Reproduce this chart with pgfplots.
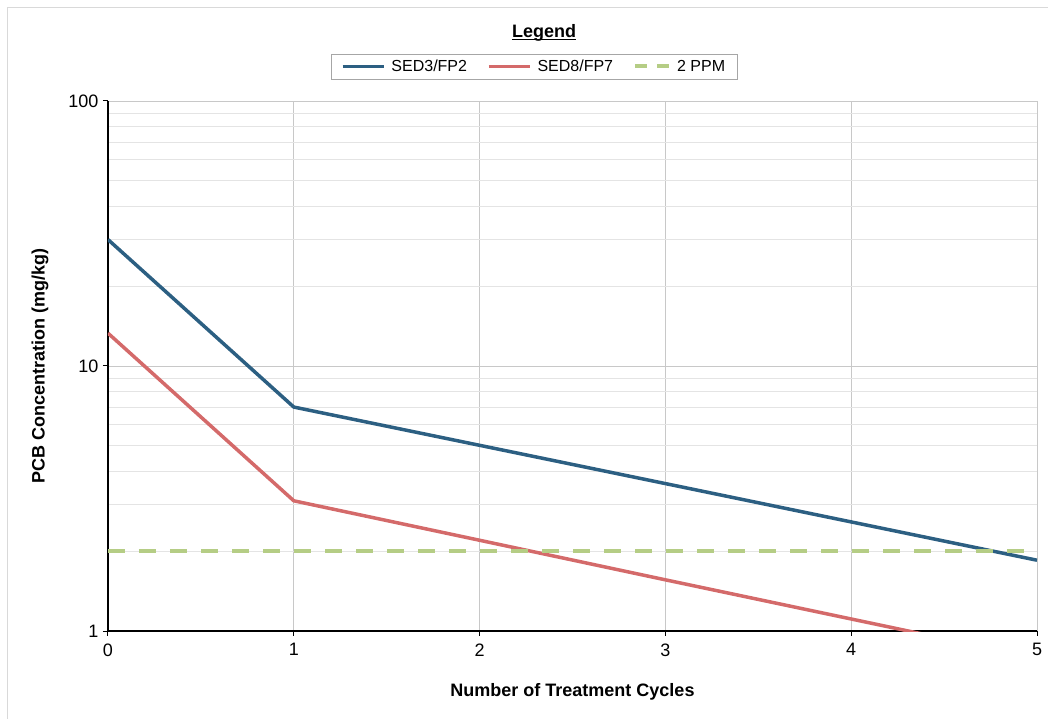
\documentclass[border=0pt]{standalone}
\usepackage{pgfplots}
\pgfplotsset{compat=1.18}
\usepackage{fontspec}
\setmainfont{Liberation Sans}
\definecolor{cblue}{RGB}{44,95,130}
\definecolor{cred}{RGB}{212,106,106}
\definecolor{cgreen}{RGB}{181,205,133}
\definecolor{gridmaj}{RGB}{200,200,200}
\definecolor{gridmin}{RGB}{228,228,228}
\newcommand\ft{\fontsize{18bp}{21bp}\selectfont}
\newcommand\fl{\fontsize{16bp}{19bp}\selectfont}
\begin{document}
\begin{tikzpicture}
\path[use as bounding box] (-108bp,-88bp) rectangle (940bp,631bp);
\draw[gray!30, line width=1bp] (-100bp,-88bp) -- (-100bp,623bp) -- (940bp,623bp);
\begin{axis}[
  scale only axis, width=929bp, height=530bp,
  at={(0,0)}, anchor=origin,
  ymode=log, xmin=0, xmax=5, ymin=1, ymax=100,
  axis x line*=bottom, axis y line*=left,
  axis line style={black, line width=1.3bp, -},
  xtick={0,1,2,3,4,5}, ytick={1,10,100}, yticklabels={1,10,100},
  tick align=outside, major tick length=5bp, minor tick length=0pt,
  tick style={black, line width=1bp},
  xmajorgrids, ymajorgrids, yminorgrids,
  major grid style={gridmaj, line width=0.8bp},
  minor grid style={gridmin, line width=0.8bp},
  /pgf/number format/assume math mode=true,
  ticklabel style={font=\ft},
  xticklabel style={yshift=-4bp},
  yticklabel style={xshift=-1bp},
  xlabel={\textbf{Number of Treatment Cycles}},
  ylabel={\textbf{PCB Concentration (mg/kg)}},
  label style={font=\ft},
  xlabel style={at={(rel axis cs:0.5,0)}, anchor=center, yshift=-61bp},
  ylabel style={at={(rel axis cs:0,0.5)}, anchor=center, yshift=68bp},
  legend columns=3,
  legend style={at={(rel axis cs:0.4586,1.0651)}, anchor=center, draw=gray!70, line width=0.8bp,
    font=\fl, inner xsep=10bp, inner ysep=4bp,
    /tikz/every even column/.append style={column sep=18bp},
    /tikz/every odd column/.append style={column sep=4bp}},
  legend image code/.code={\draw[#1] (0cm,0cm) -- (41bp,0cm);},
  clip=true,
]
\addplot[cblue, line width=3.5bp] coordinates {(0,30) (1,7) (2,5.02) (3,3.6) (4,2.58) (5,1.85)};
\addlegendentry{SED3/FP2}
\addplot[cred, line width=3.5bp] coordinates {(0,13.3) (1,3.1) (2,2.2) (3,1.56) (4,1.11) (5,0.79)};
\addlegendentry{SED8/FP7}
\addplot[cgreen, line width=4bp, dash pattern=on 17bp off 14bp,
  legend image code/.code={\draw[cgreen, line width=4bp, dash pattern=on 12bp off 10bp] (0cm,0cm) -- (34bp,0cm);}]
  coordinates {(0,2) (5,2)};
\addlegendentry{2 PPM}
\end{axis}
\node[font=\ft\bfseries, inner sep=0pt] (lg) at (436bp,598bp) {Legend};
\draw[line width=1.2bp] ([yshift=-2bp]lg.base west) -- ([yshift=-2bp]lg.base east);
\end{tikzpicture}
\end{document}
